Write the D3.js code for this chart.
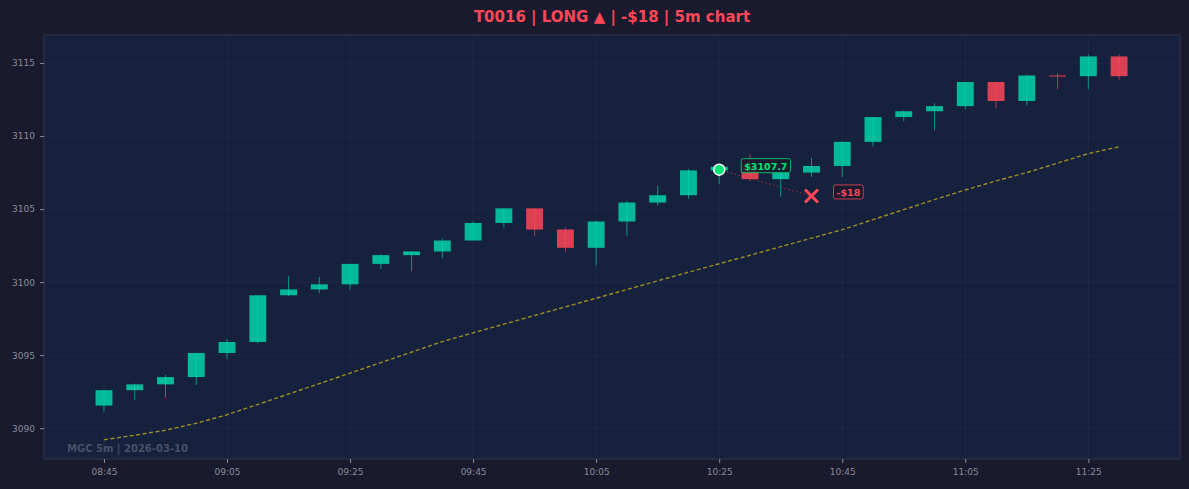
<!DOCTYPE html>
<html>
<head>
<meta charset="utf-8">
<script src="https://cdn.jsdelivr.net/npm/d3@7"></script>
<style>
  html, body { margin: 0; padding: 0; background: #1a1a2e; }
  svg { display: block; font-family: "DejaVu Sans", sans-serif; }
</style>
</head>
<body>
<svg id="chart" width="1189" height="489"></svg>
<script>
// 5m bars, MGC 2026-03-10
const times = ["08:45","08:50","08:55","09:00","09:05","09:10","09:15","09:20","09:25","09:30",
               "09:35","09:40","09:45","09:50","09:55","10:00","10:05","10:10","10:15","10:20",
               "10:25","10:30","10:35","10:40","10:45","10:50","10:55","11:00","11:05","11:10",
               "11:15","11:20","11:25","11:30"];
const opens  = [3091.55,3092.6,3093.0,3093.5,3095.15,3095.9,3099.1,3099.5,3099.85,3101.25,
                3101.85,3102.1,3102.85,3104.05,3105.05,3103.6,3102.35,3104.15,3105.45,3105.95,
                3107.65,3107.9,3107.05,3107.5,3107.95,3109.6,3111.3,3111.7,3112.05,3113.7,
                3112.4,3114.15,3114.1,3115.45];
const highs  = [3092.6,3093.05,3093.65,3095.15,3096.1,3099.1,3100.4,3100.35,3101.25,3101.9,
                3102.1,3103.0,3104.15,3105.05,3105.1,3103.75,3104.2,3105.55,3106.6,3107.75,
                3107.95,3108.75,3107.7,3108.5,3109.65,3111.3,3111.75,3112.25,3113.7,3113.7,
                3114.2,3114.3,3115.6,3115.6];
const lows   = [3091.15,3091.95,3092.1,3092.95,3094.75,3095.8,3099.05,3099.25,3099.45,3100.9,
                3100.75,3101.65,3102.85,3103.75,3103.15,3102.05,3101.15,3103.15,3105.25,3105.7,
                3106.7,3106.9,3105.85,3107.2,3107.2,3109.3,3111.0,3110.4,3111.85,3111.9,
                3112.1,3113.2,3113.2,3113.85];
const closes = [3092.6,3093.0,3093.5,3095.15,3095.9,3099.1,3099.5,3099.85,3101.25,3101.85,
                3102.1,3102.85,3104.05,3105.05,3103.6,3102.35,3104.15,3105.45,3105.95,3107.65,
                3107.9,3107.05,3107.5,3107.95,3109.6,3111.3,3111.7,3112.05,3113.7,3112.4,
                3114.15,3114.1,3115.45,3114.1];
const ema    = [3089.21,3089.52,3089.86,3090.34,3090.92,3091.63,3092.34,3093.05,3093.77,3094.49,
                3095.21,3095.93,3096.53,3097.12,3097.72,3098.31,3098.90,3099.49,3100.09,3100.68,
                3101.26,3101.84,3102.43,3103.01,3103.59,3104.28,3104.96,3105.65,3106.31,3106.93,
                3107.50,3108.15,3108.80,3109.27];

const yTicks = [3090, 3095, 3100, 3105, 3110, 3115];
const xTickLabels = ["08:45","09:05","09:25","09:45","10:05","10:25","10:45","11:05","11:25"];

// trade
const entryTime = "10:25", entryPrice = 3107.7;
const exitTime = "10:40", exitPrice = 3105.9;
const entryLabel = "$3107.7", exitLabel = "-$18";
const titleText = "T0016 | LONG \u25B2 | -$18 | 5m chart";
const watermark = "MGC 5m | 2026-03-10";

const parse = d3.timeParse("%H:%M");
const data = times.map((t, i) => ({
    t: parse(t), o: opens[i], h: highs[i], l: lows[i], c: closes[i], ma: ema[i]
}));

const W = 1189, H = 489;
const margin = { top: 35, right: 9, bottom: 30, left: 44 };
const innerW = W - margin.left - margin.right;
const innerH = H - margin.top - margin.bottom;

const svg = d3.select("#chart");

const x = d3.scaleTime()
    .domain([d3.timeSecond.offset(data[0].t, -585), d3.timeSecond.offset(data[data.length - 1].t, 594)])
    .range([0, innerW]);

const lo = d3.min([d3.min(lows), d3.min(ema)]);
const hi = d3.max([d3.max(highs), d3.max(ema)]);
const pad = (hi - lo) * 0.05;
const y = d3.scaleLinear()
    .domain([lo - pad, hi + pad])
    .range([innerH, 0]);

const GREEN = "#00d4aa", RED = "#ff4757";

// title
svg.append("text")
    .attr("x", margin.left + innerW / 2)
    .attr("y", 22)
    .attr("text-anchor", "middle")
    .attr("font-size", 15)
    .attr("font-weight", "bold")
    .attr("fill", RED)
    .text(titleText);

const g = svg.append("g").attr("transform", `translate(${margin.left},${margin.top})`);

g.append("rect")
    .attr("width", innerW).attr("height", innerH)
    .attr("fill", "#16213e");

// grid
const xTickVals = xTickLabels.map(parse);
g.append("g").selectAll("line").data(xTickVals).enter().append("line")
    .attr("x1", d => x(d)).attr("x2", d => x(d))
    .attr("y1", 0).attr("y2", innerH)
    .attr("stroke", "rgba(255,255,255,0.035)");
g.append("g").selectAll("line").data(yTicks).enter().append("line")
    .attr("x1", 0).attr("x2", innerW)
    .attr("y1", d => y(d)).attr("y2", d => y(d))
    .attr("stroke", "rgba(255,255,255,0.035)");

// moving average
const line = d3.line().x(d => x(d.t)).y(d => y(d.ma));
g.append("path")
    .datum(data)
    .attr("d", line)
    .attr("fill", "none")
    .attr("stroke", "#c9b01c")
    .attr("stroke-opacity", 0.75)
    .attr("stroke-width", 1.4)
    .attr("stroke-dasharray", "4,2.5");

// candles
const step = x(data[1].t) - x(data[0].t);
const bw = step * 0.55;
const candles = g.append("g").selectAll("g").data(data).enter().append("g");
candles.append("rect")
    .attr("x", d => x(d.t) - bw / 2)
    .attr("y", d => y(Math.max(d.o, d.c)))
    .attr("width", bw)
    .attr("height", d => Math.max(1, Math.abs(y(d.o) - y(d.c))))
    .attr("fill", d => d.c >= d.o ? GREEN : RED)
    .attr("fill-opacity", 0.85);
candles.append("line")
    .attr("x1", d => x(d.t)).attr("x2", d => x(d.t))
    .attr("y1", d => y(d.h)).attr("y2", d => y(d.l))
    .attr("stroke", d => d.c >= d.o ? GREEN : RED)
    .attr("stroke-opacity", 0.65)
    .attr("stroke-width", 1);

// trade path
const ex = x(parse(entryTime)), ey = y(entryPrice);
const xx = x(parse(exitTime)), xy = y(exitPrice);
g.append("line")
    .attr("x1", ex).attr("y1", ey).attr("x2", xx).attr("y2", xy)
    .attr("stroke", RED).attr("stroke-opacity", 0.5)
    .attr("stroke-width", 1.2)
    .attr("stroke-dasharray", "1.5,2.5");

g.append("circle")
    .attr("cx", ex).attr("cy", ey).attr("r", 5.5)
    .attr("fill", "#00e676")
    .attr("stroke", "#ffffff").attr("stroke-width", 1.5);

const s = 6.5;
g.append("path")
    .attr("d", `M${xx - s},${xy - s}L${xx + s},${xy + s}M${xx - s},${xy + s}L${xx + s},${xy - s}`)
    .attr("stroke", RED).attr("stroke-width", 3).attr("fill", "none");

function tag(px, py, txt, color) {
    const grp = g.append("g");
    const box = grp.append("rect");
    const t = grp.append("text")
        .attr("x", px + 25).attr("y", py)
        .attr("font-size", 9.5)
        .attr("font-weight", "bold")
        .attr("fill", color)
        .text(txt);
    const tw = t.node().getComputedTextLength();
    box.attr("x", px + 22).attr("y", py - 11)
        .attr("width", tw + 6).attr("height", 14)
        .attr("rx", 2)
        .attr("fill", "#1a1a2e").attr("fill-opacity", 0.85)
        .attr("stroke", color).attr("stroke-opacity", 0.75).attr("stroke-width", 1);
}
tag(ex, ey, entryLabel, "#00e676");
tag(xx, xy, exitLabel, RED);

// watermark
g.append("text")
    .attr("x", 23).attr("y", innerH - 7)
    .attr("font-size", 10)
    .attr("font-weight", "bold")
    .attr("fill", "#ffffff").attr("fill-opacity", 0.22)
    .text(watermark);

// frame
g.append("rect")
    .attr("width", innerW).attr("height", innerH)
    .attr("fill", "none")
    .attr("stroke", "#34364a").attr("stroke-width", 1);

// axes
function styleAxis(sel) {
    sel.select(".domain").remove();
    sel.selectAll("line").attr("stroke", "#8a8a98");
    sel.selectAll("text")
        .attr("fill", "#8a8a98")
        .attr("font-size", 9)
        .attr("font-family", "DejaVu Sans, sans-serif");
}
g.append("g")
    .attr("transform", `translate(0,${innerH})`)
    .call(d3.axisBottom(x).tickValues(xTickVals).tickFormat(d3.timeFormat("%H:%M")).tickSize(4).tickPadding(6))
    .call(styleAxis);
g.append("g")
    .call(d3.axisLeft(y).tickValues(yTicks).tickFormat(d3.format("d")).tickSize(4).tickPadding(5))
    .call(styleAxis);
</script>
</body>
</html>
